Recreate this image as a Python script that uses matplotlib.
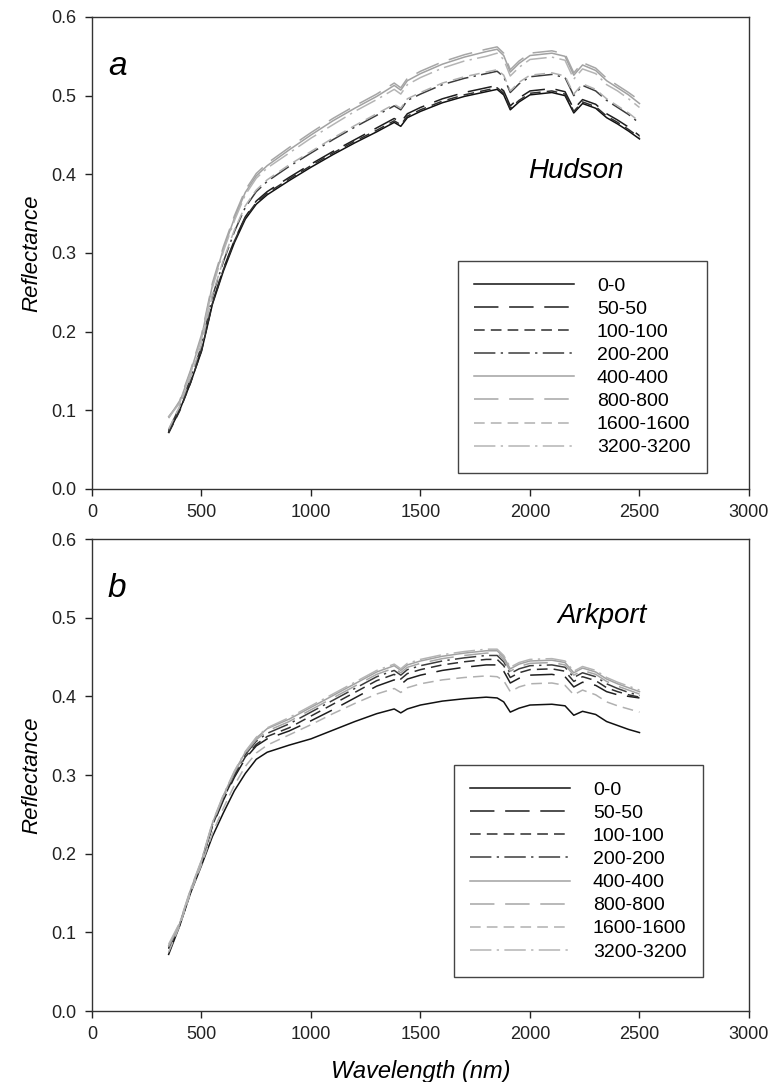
import matplotlib
matplotlib.use("Agg")
import matplotlib.pyplot as plt

plt.rcParams['font.family'] = ['Liberation Sans', 'DejaVu Sans']

wavelength = [350, 400, 450, 500, 550, 600, 650, 700, 750, 800, 900, 1000, 1100, 1200,
              1300, 1380, 1410, 1440, 1500, 1600, 1700, 1800, 1850, 1880, 1910, 1950,
              2000, 2100, 2160, 2200, 2240, 2300, 2350, 2400, 2450, 2500]

labels = ['0-0', '50-50', '100-100', '200-200', '400-400', '800-800', '1600-1600', '3200-3200']

# Panel a: Hudson
hudson_0 = [.072, .100, .135, .175, .235, .277, .313, .343, .362, .374, .392, .409, .425, .440,
            .454, .466, .461, .472, .480, .491, .499, .505, .508, .501, .482, .492,
            .501, .504, .500, .478, .490, .484, .472, .464, .455, .445]
hudson_50 = [.073, .101, .136, .177, .237, .280, .316, .346, .366, .378, .396, .413, .429, .444,
             .459, .471, .466, .477, .485, .496, .504, .510, .513, .506, .487, .497,
             .506, .509, .505, .483, .495, .489, .477, .469, .460, .449]
hudson_100 = [.071, .099, .135, .176, .236, .279, .315, .345, .364, .376, .394, .411, .427, .442,
              .456, .468, .463, .474, .482, .493, .501, .507, .510, .503, .484, .494,
              .503, .506, .502, .480, .492, .486, .474, .466, .457, .447]
hudson_200 = [.075, .104, .140, .182, .245, .289, .327, .358, .378, .391, .410, .427, .444, .460,
              .475, .487, .482, .494, .502, .514, .522, .528, .531, .524, .504, .515,
              .524, .527, .523, .500, .513, .506, .494, .485, .476, .465]
hudson_400 = [.092, .110, .149, .193, .259, .305, .344, .377, .398, .411, .431, .450, .468, .484,
              .499, .513, .507, .519, .528, .540, .549, .556, .559, .551, .530, .541,
              .551, .554, .550, .526, .539, .532, .519, .510, .501, .490]
hudson_800 = [.090, .112, .151, .196, .262, .308, .347, .380, .401, .414, .434, .453, .471, .487,
              .502, .516, .510, .522, .531, .543, .552, .559, .562, .554, .533, .544,
              .554, .557, .553, .529, .542, .535, .522, .513, .504, .494]
hudson_1600 = [.076, .105, .142, .184, .247, .291, .329, .360, .380, .393, .412, .429, .446, .462,
               .477, .489, .484, .496, .504, .516, .524, .530, .533, .526, .506, .517,
               .526, .529, .525, .502, .515, .508, .496, .487, .478, .467]
hudson_3200 = [.091, .109, .147, .191, .256, .302, .341, .374, .395, .408, .427, .446, .463, .480,
               .495, .508, .502, .514, .523, .535, .544, .550, .554, .546, .525, .536,
               .546, .549, .545, .521, .534, .528, .514, .506, .496, .485]

# Panel b: Arkport
arkport_0 = [.072, .108, .150, .185, .222, .252, .280, .302, .320, .329, .338, .346, .357, .368,
             .378, .384, .379, .384, .389, .394, .397, .399, .398, .393, .380, .385,
             .389, .390, .388, .376, .381, .377, .368, .363, .358, .354]
arkport_50 = [.080, .110, .152, .189, .235, .268, .297, .321, .337, .346, .356, .369, .383, .398,
              .413, .421, .415, .422, .427, .433, .437, .440, .440, .432, .417, .423,
              .427, .428, .425, .412, .418, .414, .406, .402, .400, .398]
arkport_100 = [.079, .109, .151, .189, .236, .270, .299, .323, .339, .349, .360, .375, .390, .405,
               .420, .428, .422, .429, .434, .440, .444, .447, .447, .439, .424, .430,
               .434, .435, .432, .419, .425, .420, .411, .406, .402, .399]
arkport_200 = [.080, .110, .152, .190, .237, .272, .301, .326, .343, .353, .365, .380, .395, .410,
               .425, .433, .427, .434, .439, .445, .449, .452, .452, .444, .429, .435,
               .439, .440, .437, .424, .430, .425, .416, .410, .405, .401]
arkport_400 = [.083, .111, .154, .191, .239, .274, .304, .329, .347, .359, .371, .386, .401, .416,
               .431, .439, .433, .440, .445, .451, .455, .458, .458, .450, .435, .441,
               .445, .446, .443, .430, .436, .431, .422, .416, .411, .406]
arkport_800 = [.082, .110, .153, .190, .238, .273, .303, .328, .345, .356, .368, .383, .398, .413,
               .428, .436, .430, .437, .442, .448, .452, .455, .455, .447, .432, .438,
               .442, .443, .440, .427, .433, .428, .419, .413, .408, .403]
arkport_1600 = [.075, .108, .150, .186, .226, .258, .287, .311, .328, .338, .351, .364, .378, .391,
                .403, .410, .405, .411, .416, .421, .424, .426, .425, .420, .406, .412,
                .416, .417, .414, .402, .408, .402, .393, .388, .384, .380]
arkport_3200 = [.085, .112, .155, .192, .240, .275, .305, .330, .348, .360, .373, .388, .403, .418,
                .433, .441, .435, .442, .447, .453, .457, .460, .460, .452, .437, .443,
                .447, .448, .445, .432, .438, .433, .424, .418, .413, .408]

hudson = [hudson_0, hudson_50, hudson_100, hudson_200, hudson_400, hudson_800, hudson_1600, hudson_3200]
arkport = [arkport_0, arkport_50, arkport_100, arkport_200, arkport_400, arkport_800, arkport_1600, arkport_3200]

colors = ['#111111', '#1e1e1e', '#2e2e2e', '#3c3c3c', '#a2a2a2', '#a6a6a6', '#b0b0b0', '#b4b4b4']
dashes = [None, (16, 7), (7, 4), (14, 3.5, 1.5, 3.5), None, (16, 7), (7, 4), (14, 3.5, 1.5, 3.5)]

fig = plt.figure(figsize=(7.81, 10.82), dpi=100)
ax1 = fig.add_axes([0.1178, 0.5481, 0.8412, 0.4362])
ax2 = fig.add_axes([0.1178, 0.0656, 0.8412, 0.4362])


def draw(ax, data, legend_anchor):
    for series, lab, c, d in zip(data, labels, colors, dashes):
        line, = ax.plot(wavelength, series, color=c, lw=1.1, label=lab)
        if d is not None:
            line.set_dashes(d)
    ax.set_xlim(0, 3000)
    ax.set_ylim(0, 0.6)
    ax.set_xticks(range(0, 3001, 500))
    ax.set_yticks([0.0, 0.1, 0.2, 0.3, 0.4, 0.5, 0.6])
    ax.set_yticklabels(['0.0', '0.1', '0.2', '0.3', '0.4', '0.5', '0.6'])
    ax.tick_params(direction='out', length=5, width=1, labelsize=13, pad=6,
                   colors='#222222', top=False, right=False)
    for sp in ax.spines.values():
        sp.set_linewidth(1.0)
        sp.set_color('#333333')
    ax.set_ylabel('Reflectance', fontsize=16, style='italic', labelpad=7)
    leg = ax.legend(loc='lower right', bbox_to_anchor=legend_anchor, borderaxespad=0,
                    fontsize=14, handlelength=5.1, handletextpad=1.2, labelspacing=0.28,
                    borderpad=0.85, fancybox=False, framealpha=1, edgecolor='#444444')
    leg.get_frame().set_linewidth(1.0)


draw(ax1, hudson, (0.936, 0.034))
draw(ax2, arkport, (0.930, 0.072))

ax1.text(0.024, 0.877, 'a', transform=ax1.transAxes, fontsize=24, style='italic',
         ha='left', va='baseline')
ax1.text(0.664, 0.659, 'Hudson', transform=ax1.transAxes, fontsize=20, style='italic',
         ha='left', va='baseline')
ax2.text(0.024, 0.877, 'b', transform=ax2.transAxes, fontsize=24, style='italic',
         ha='left', va='baseline')
ax2.text(0.708, 0.822, 'Arkport', transform=ax2.transAxes, fontsize=20, style='italic',
         ha='left', va='baseline')

ax2.set_xlabel('Wavelength (nm)', fontsize=17, style='italic', labelpad=12)

fig.savefig('out.png', dpi=100)
